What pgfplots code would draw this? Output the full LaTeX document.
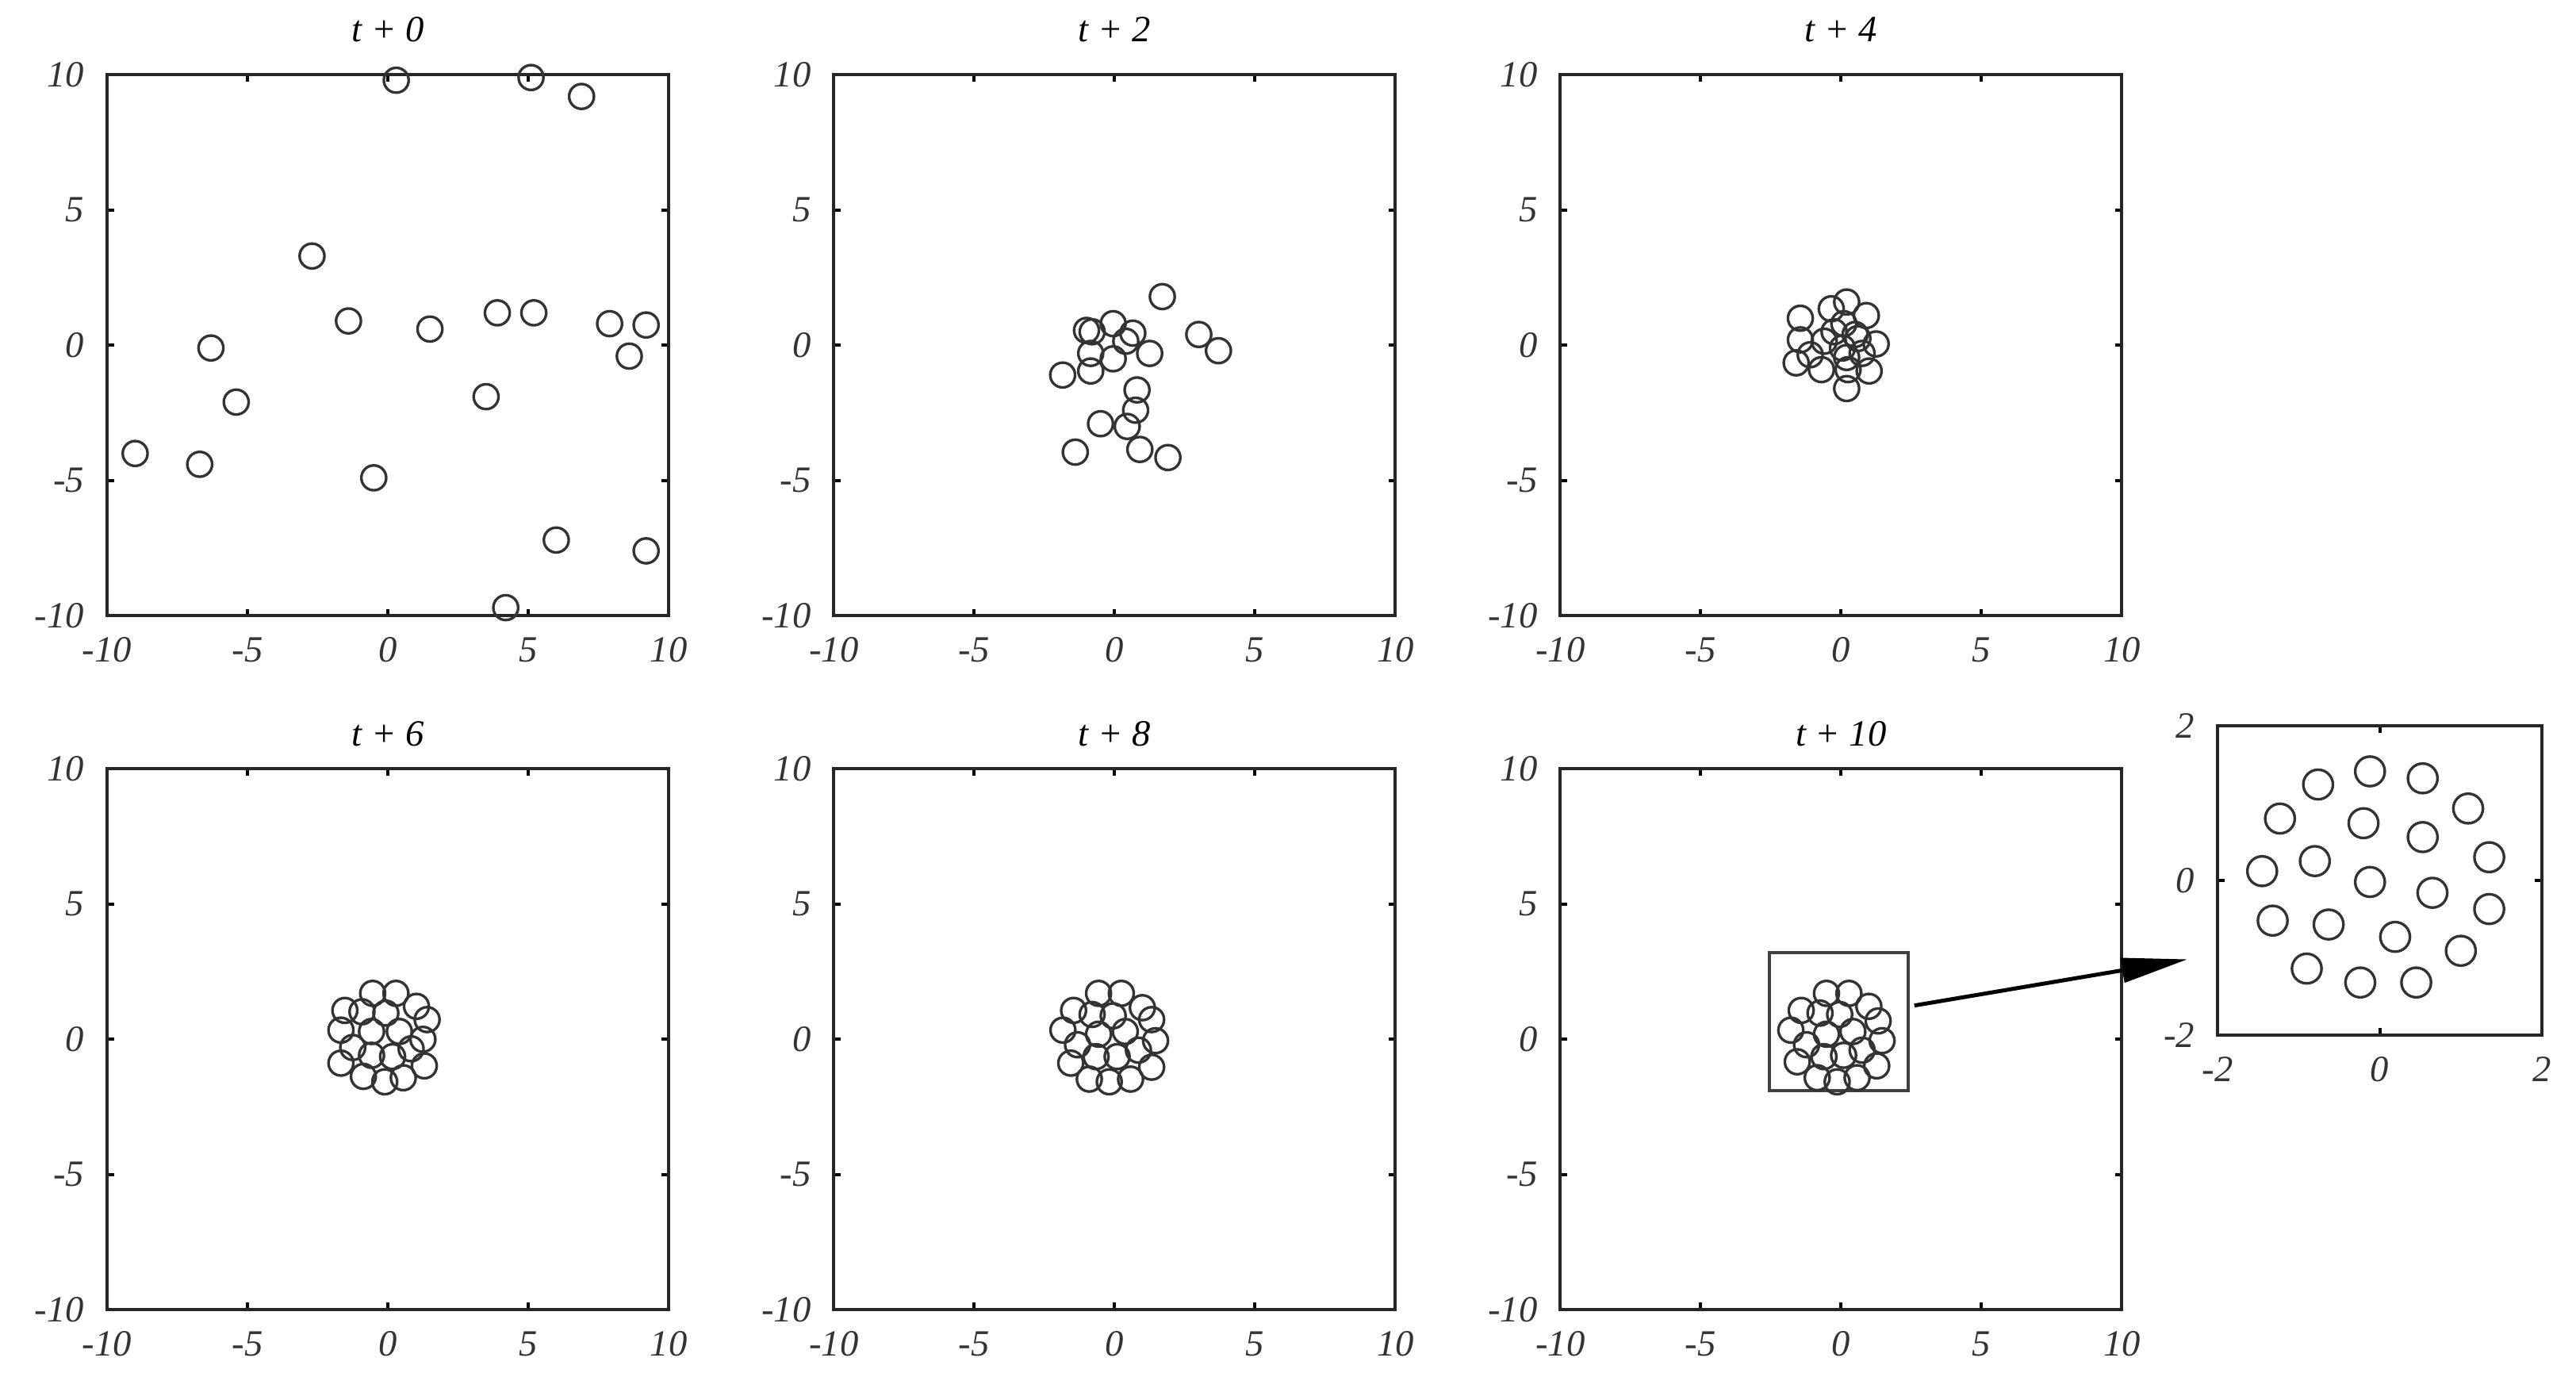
\documentclass[border=0pt]{standalone}
\usepackage{fontspec}
\setmainfont{Liberation Serif}
\usepackage{pgfplots}
\pgfplotsset{compat=1.18}
\usetikzlibrary{arrows.meta}

\pgfplotsset{
  panel/.style={
    scale only axis,
    width=106.2pt, height=102.3pt,
    xmin=-10, xmax=10, ymin=-10, ymax=10,
    xtick={-10,-5,0,5,10}, ytick={-10,-5,0,5,10},
    xticklabels={-10,-5,0,5,10}, yticklabels={-10,-5,0,5,10},
    tick align=inside, major tick length=1.3pt,
    every tick/.style={black, line width=0.6pt},
    axis line style={line width=0.6pt, black!85},
    ticklabel style={font=\itshape\fontsize{7}{8}\selectfont, text=black!80},
    xticklabel style={yshift=-0.6pt},
    yticklabel style={xshift=-0.8pt},
    title style={at={(0.5,1)}, anchor=center, font=\itshape\fontsize{7}{8}\selectfont},
    clip=false,
    anchor=south west,
  },
  dots/.style={only marks, mark=o, mark size=2.35pt,
    mark options={line width=0.5pt, draw=black!80}},
}

\begin{document}
\begin{tikzpicture}
\useasboundingbox (0,0) rectangle (487.2pt,259.65pt);

% t + 0
\begin{axis}[panel, at={(20.25pt,143.2pt)}, title={t + 0}, title style={yshift=2.6pt}]
\addplot[dots] coordinates {
  (0.3,9.8) (5.1,9.9) (6.9,9.2) (-2.7,3.3) (-1.4,0.9) (1.5,0.6)
  (3.9,1.2) (5.2,1.2) (7.9,0.8) (9.2,0.75) (8.6,-0.4) (-6.3,-0.1)
  (-5.4,-2.1) (3.5,-1.9) (-9.0,-4.0) (-6.7,-4.4) (-0.5,-4.9)
  (6.0,-7.2) (9.2,-7.6) (4.2,-9.7)
};
\end{axis}

% t + 2
\begin{axis}[panel, at={(157.7pt,143.2pt)}, title={t + 2}, title style={yshift=2.6pt}]
\addplot[dots] coordinates {
  (1.7,1.8) (3.0,0.4) (3.7,-0.2) (-1.0,0.55) (-0.8,0.5) (-0.05,0.8)
  (0.65,0.45) (0.4,0.15) (1.25,-0.3) (-0.05,-0.5) (-0.85,-0.3)
  (-0.85,-0.95) (-1.85,-1.1) (0.8,-1.65) (0.75,-2.4) (0.45,-3.0)
  (-0.5,-2.9) (-1.4,-3.95) (0.9,-3.85) (1.9,-4.15)
};
\end{axis}

% t + 4
\begin{axis}[panel, at={(295.1pt,143.2pt)}, title={t + 4}, title style={yshift=2.6pt}]
\addplot[dots] coordinates {
  (0.2,1.6) (-0.35,1.35) (0.9,1.1) (-1.45,1.0) (0.1,0.8) (0.5,0.4)
  (0.6,0.25) (1.25,0.05) (-0.6,0.15) (-1.45,0.2) (0.05,-0.1)
  (-1.1,-0.35) (0.2,-0.45) (-1.6,-0.65) (-0.7,-0.9) (0.25,-0.9)
  (1.0,-0.95) (0.2,-1.6) (-0.25,0.5) (0.75,-0.3)
};
\end{axis}

% t + 6
\begin{axis}[panel, at={(20.25pt,12pt)}, title={t + 6}, title style={yshift=0.6pt}]
\addplot[dots] coordinates {
  (-0.54,1.69) (0.29,1.69) (-1.53,1.06) (1.02,1.21) (1.40,0.72)
  (-1.67,0.33) (-0.58,0.28) (0.41,0.28) (-0.07,0.96) (-0.92,1.01)
  (1.25,-0.01) (-1.25,-0.31) (-1.67,-0.89) (-0.58,-0.60) (0.17,-0.65)
  (0.83,-0.36) (1.30,-0.99) (-0.87,-1.38) (-0.11,-1.58) (0.55,-1.43)
};
\end{axis}

% t + 8
\begin{axis}[panel, at={(157.7pt,12pt)}, title={t + 8}, title style={yshift=0.6pt}]
\addplot[dots] coordinates {
  (-0.57,1.69) (0.24,1.69) (-1.46,1.06) (0.99,1.16) (1.32,0.72)
  (-1.84,0.33) (-0.57,0.18) (0.38,0.28) (-0.05,0.86) (-0.80,0.91)
  (1.46,-0.06) (-1.32,-0.21) (-1.56,-0.89) (-0.66,-0.65) (0.09,-0.65)
  (0.85,-0.41) (1.32,-1.04) (-0.90,-1.48) (-0.19,-1.58) (0.57,-1.48)
};
\end{axis}

% t + 10
\begin{axis}[panel, at={(295.1pt,12pt)}, title={t + 10}, title style={yshift=0.6pt}]
\addplot[dots] coordinates {
  (-0.52,1.69) (0.28,1.69) (-1.42,1.06) (0.99,1.21) (1.32,0.67)
  (-1.79,0.33) (-0.52,0.18) (0.42,0.28) (-0.05,0.91) (-0.75,0.96)
  (1.46,-0.06) (-1.23,-0.21) (-1.56,-0.84) (-0.61,-0.65) (0.09,-0.60)
  (0.75,-0.41) (1.27,-0.99) (-0.85,-1.43) (-0.14,-1.58) (0.57,-1.43)
};
\draw[line width=0.6pt, black!75] (axis cs:-2.55,-1.9) rectangle (axis cs:2.4,3.2);
\coordinate (zstart) at (axis cs:2.61,1.24);
\end{axis}

% zoomed view of t + 10
\begin{axis}[panel, at={(419.4pt,63.9pt)}, width=61.35pt, height=58.5pt,
  xmin=-2, xmax=2, ymin=-2, ymax=2,
  xtick={-2,0,2}, ytick={-2,0,2},
  xticklabels={-2,0,2}, yticklabels={-2,0,2}]
\addplot[dots, mark size=2.8pt] coordinates {
  (-0.12,1.41) (0.53,1.32) (-0.76,1.24) (1.09,0.93) (-1.23,0.80)
  (-0.20,0.74) (0.53,0.56) (1.35,0.30) (-0.80,0.25) (-1.45,0.12)
  (-0.12,-0.02) (0.65,-0.16) (1.35,-0.37) (-1.32,-0.52) (-0.63,-0.57)
  (0.19,-0.73) (1.00,-0.91) (-0.90,-1.14) (-0.24,-1.32) (0.45,-1.32)
};
\coordinate (ztip) at (axis cs:-2.37,-1.02);
\end{axis}

\draw[line width=0.75pt, -{Triangle[length=12.5pt,width=4.6pt]}] (zstart) -- (ztip);
\end{tikzpicture}
\end{document}
